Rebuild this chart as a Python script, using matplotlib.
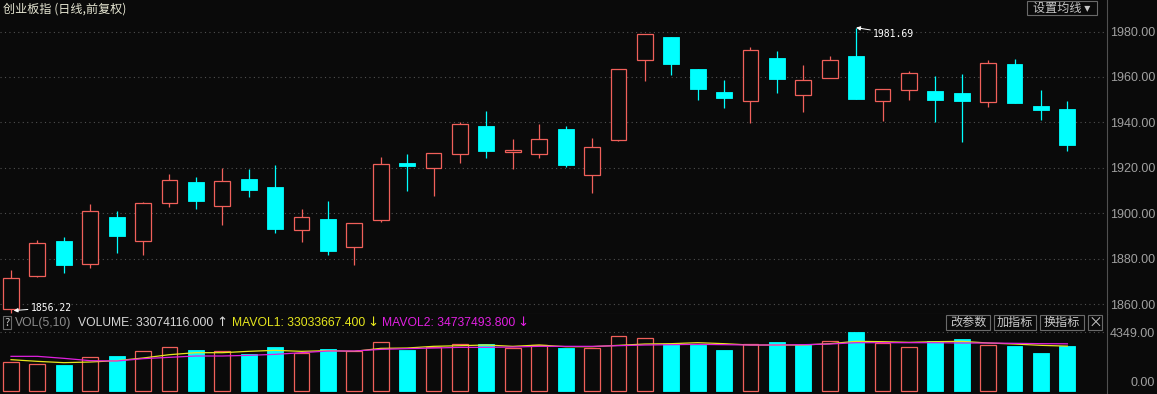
import numpy as np
import matplotlib
matplotlib.use('Agg')
import matplotlib.pyplot as plt
from matplotlib.patches import Rectangle

# daily candles, 创业板指
opens = [1857.8, 1872.6, 1887.8, 1877.6, 1898.4, 1887.7, 1904.4, 1913.8, 1903.1, 1915.0,
         1911.5, 1892.5, 1897.5, 1885.3, 1897.2, 1922.1, 1919.8, 1926.0, 1938.4, 1926.9,
         1926.3, 1937.1, 1916.7, 1932.1, 1967.6, 1977.6, 1963.4, 1953.4, 1949.3, 1968.3,
         1952.2, 1959.7, 1969.2, 1949.3, 1954.1, 1953.8, 1952.8, 1948.9, 1965.7, 1947.2,
         1945.9]
highs = [1875.1, 1888.3, 1889.5, 1904.1, 1901.0, 1904.8, 1917.4, 1916.0, 1920.0, 1919.4,
         1921.3, 1901.9, 1905.4, 1895.8, 1924.8, 1926.1, 1926.6, 1940.1, 1945.0, 1932.7,
         1939.3, 1938.6, 1933.3, 1963.6, 1979.0, 1977.8, 1963.6, 1958.7, 1973.2, 1971.4,
         1965.3, 1969.2, 1981.69, 1954.8, 1962.6, 1960.3, 1961.4, 1967.3, 1967.9, 1954.3,
         1949.6]
lows = [1856.22, 1872.0, 1873.6, 1875.8, 1882.7, 1881.7, 1902.9, 1901.8, 1894.9, 1907.3,
        1891.2, 1887.3, 1881.8, 1877.3, 1896.3, 1910.0, 1907.6, 1922.3, 1924.5, 1919.4,
        1924.5, 1920.5, 1909.1, 1931.9, 1958.4, 1960.9, 1950.0, 1946.5, 1939.9, 1953.1,
        1944.7, 1959.5, 1950.2, 1940.8, 1950.0, 1940.2, 1931.4, 1946.9, 1948.5, 1941.1,
        1927.6]
closes = [1871.4, 1886.8, 1877.3, 1900.9, 1890.2, 1904.6, 1914.5, 1905.6, 1914.1, 1910.4,
          1893.1, 1898.3, 1883.6, 1895.6, 1921.6, 1921.0, 1926.4, 1939.2, 1927.6, 1928.0,
          1932.6, 1921.4, 1929.1, 1963.4, 1978.8, 1965.8, 1954.8, 1950.9, 1971.7, 1959.2,
          1958.5, 1967.3, 1950.4, 1954.6, 1961.7, 1949.7, 1949.5, 1966.0, 1948.7, 1945.3,
          1930.1]

# volume in 万
volumes = [2126, 1956, 1926, 2474, 2593, 2919, 3237, 3015, 2919, 2741,
           3259, 2815, 3111, 2919, 3585, 3037, 3259, 3437, 3437, 3185,
           3385, 3185, 3163, 4030, 3881, 3437, 3407, 3015, 3437, 3607,
           3363, 3659, 4349, 3511, 3215, 3659, 3852, 3385, 3333, 2815,
           3307]
mavol1 = [2299, 2175, 2077, 2126, 2225, 2422, 2669, 2817, 2817, 2916,
          2990, 2916, 2966, 2916, 3138, 3163, 3287, 3336, 3385, 3287,
          3385, 3262, 3262, 3361, 3459, 3484, 3558, 3484, 3385, 3385,
          3385, 3484, 3657, 3632, 3583, 3632, 3657, 3534, 3459, 3361,
          3303]
mavol2 = [2546, 2546, 2398, 2225, 2200, 2373, 2472, 2571, 2571, 2620,
          2694, 2817, 2941, 2941, 3064, 3114, 3163, 3212, 3212, 3237,
          3287, 3287, 3287, 3336, 3385, 3410, 3435, 3410, 3385, 3385,
          3410, 3459, 3558, 3558, 3558, 3558, 3534, 3534, 3509, 3484,
          3474]
last_volume = 33074116.000
last_mavol1 = 33033667.400
last_mavol2 = 34737493.800
price_ticks = [1860, 1880, 1900, 1920, 1940, 1960, 1980]

BG = '#0a0a0a'
RED = '#f0605a'
CYAN = '#00ffff'
YEL = '#e6e61e'
MAG = '#e020e0'
GRID = '#505050'
AXC = '#a0a0a0'

W, H = 1157, 394


def fx(x):
    return x / W


def fy(y):
    return 1 - y / H


opens = np.array(opens)
closes = np.array(closes)
highs = np.array(highs)
lows = np.array(lows)
volumes = np.array(volumes)
x = np.arange(len(opens))

fig = plt.figure(figsize=(W / 100, H / 100), dpi=100, facecolor=BG)
ax = fig.add_axes([0, fy(313.5), fx(1107), 313.5 / H], facecolor=BG)
ax2 = fig.add_axes([0, 0, fx(1107), fy(313.5)], facecolor=BG)

for a in (ax, ax2):
    a.set_xlim(-0.417, 41.5)
    a.set_xticks([])
    for s in ('top', 'left'):
        a.spines[s].set_visible(False)
    a.spines['right'].set_color('#505050')
    a.spines['bottom'].set_color('#3c3c3c')
    a.yaxis.tick_right()
    a.tick_params(axis='y', length=0, pad=2.2, labelcolor=AXC, labelsize=9)
    a.grid(axis='y', color=GRID, linestyle=(0, (1, 3)), linewidth=0.8)
    a.set_axisbelow(True)

# candles
up = closes >= opens
dn = ~up
lo_b = np.minimum(opens, closes)
hi_b = np.maximum(opens, closes)
ax.vlines(x[up], hi_b[up], highs[up], color=RED, lw=0.9)
ax.vlines(x[up], lows[up], lo_b[up], color=RED, lw=0.9)
ax.bar(x[up], (hi_b - lo_b)[up], bottom=lo_b[up], width=0.6,
       facecolor=BG, edgecolor=RED, linewidth=0.9, zorder=3)
ax.vlines(x[dn], lows[dn], highs[dn], color=CYAN, lw=0.9, zorder=2)
ax.bar(x[dn], (hi_b - lo_b)[dn], bottom=lo_b[dn], width=0.6,
       color=CYAN, edgecolor=CYAN, linewidth=0.6, zorder=3)

ax.set_ylim(1855.95, 1993.86)
ax.set_yticks(price_ticks)
ax.set_yticklabels(['%.2f' % v for v in price_ticks], family='Liberation Sans')

# high / low marks
ihi = int(np.argmax(highs))
ilo = int(np.argmin(lows))
arrow = dict(arrowstyle='-|>', color='white', lw=0.7, mutation_scale=6,
             shrinkA=0, shrinkB=0)
ax.annotate('%.2f' % highs[ihi], xy=(ihi, highs[ihi]), xytext=(17, -6),
            textcoords='offset pixels', color='white', fontsize=7,
            family='DejaVu Sans Mono', va='center', ha='left', arrowprops=arrow)
ax.annotate('%.2f' % lows[ilo], xy=(ilo + 0.1, lows[ilo] + 1), xytext=(17, 3),
            textcoords='offset pixels', color='white', fontsize=7,
            family='DejaVu Sans Mono', va='center', ha='left', arrowprops=arrow)

# volume
prev = np.concatenate([[closes[0] - 1], closes[:-1]])
vup = closes >= prev
ax2.bar(x[vup], volumes[vup], width=0.6, facecolor=BG, edgecolor=RED, linewidth=0.9)
ax2.bar(x[~vup], volumes[~vup], width=0.6, color=CYAN, edgecolor=CYAN, linewidth=0.6)
ax2.plot(x, mavol1, color=YEL, lw=0.9, zorder=4)
ax2.plot(x, mavol2, color=MAG, lw=0.9, zorder=4)
vmax = volumes.max()
ax2.set_ylim(-0.0562 * vmax, 1.3152 * vmax)
ax2.set_yticks([vmax])
ax2.set_yticklabels(['%.2f' % vmax], family='Liberation Sans')
ax2.annotate('0.00', xy=(1, 0), xycoords=('axes fraction', 'data'), xytext=(48, 2),
             textcoords='offset pixels', ha='right', va='bottom', color=AXC,
             fontsize=9, family='Liberation Sans')

# title and header texts
cjk = ['Noto Sans CJK SC', 'DejaVu Sans']
fig.text(fx(3), fy(9), '创业板指 (日线,前复权)', color='#e6e6d2', fontsize=8.7,
         family=cjk, va='center', ha='left')


def button(x0, y0, x1, y1, label, size=8.7):
    fig.patches.append(Rectangle((fx(x0), fy(y1)), fx(x1 - x0), (y1 - y0) / H,
                                 transform=fig.transFigure, fill=False,
                                 edgecolor='#6a6a6a', linewidth=0.8))
    fig.text(fx((x0 + x1) / 2), fy((y0 + y1) / 2), label, color='#c8c8c8',
             fontsize=size, family=cjk, ha='center', va='center')


button(1027, 1, 1097, 15, '设置均线 ▾')
button(946, 315, 990, 330, '改参数')
button(994, 315, 1036, 330, '加指标')
button(1040, 315, 1084, 330, '换指标')
button(1088, 315, 1102, 330, '×', size=10)
button(2.5, 316, 11, 329, '?', size=8)

lat = ['Liberation Sans', 'DejaVu Sans']
yh = fy(322.7)
fig.text(fx(15), yh, 'VOL(5,10)', color='#8c8c8c', fontsize=8.7, family=lat, va='center')
fig.text(fx(78), yh, 'VOLUME: %.3f' % last_volume, color='#d8d8d8',
         fontsize=8.7, family=lat, va='center')
fig.text(fx(216), yh, '↑', color='#d8d8d8', fontsize=9.5, family='DejaVu Sans', va='center')
fig.text(fx(232), yh, 'MAVOL1: %.3f' % last_mavol1, color=YEL, fontsize=8.7,
         family=lat, va='center')
fig.text(fx(367), yh, '↓', color=YEL, fontsize=9.5, family='DejaVu Sans', va='center')
fig.text(fx(382), yh, 'MAVOL2: %.3f' % last_mavol2, color=MAG, fontsize=8.7,
         family=lat, va='center')
fig.text(fx(517), yh, '↓', color=MAG, fontsize=9.5, family='DejaVu Sans', va='center')

fig.savefig('out.png', dpi=100, facecolor=BG)
